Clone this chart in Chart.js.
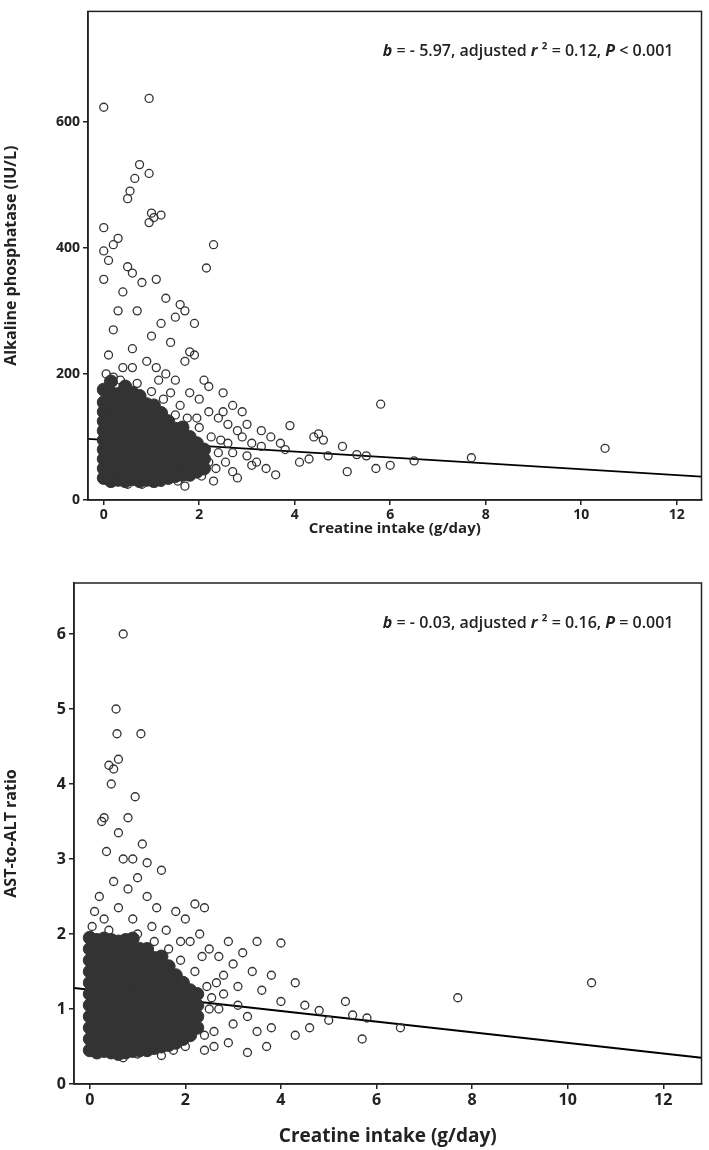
<!DOCTYPE html>
<html>
<head>
<meta charset="utf-8">
<script src="https://cdn.jsdelivr.net/npm/chart.js@4/dist/chart.umd.min.js"></script>
<style>
  body { margin: 0; background: #fff; }
  .box { position: relative; width: 709px; }
</style>
</head>
<body>
<div class="box" style="height:540px"><canvas id="alp"></canvas></div>
<div class="box" style="height:610px"><canvas id="ratio"></canvas></div>
<script>
// x tick labels shared by both panels
const xTicks = [0, 2, 4, 6, 8, 10, 12];
const alpTicks = [0, 200, 400, 600];
const ratioTicks = [0, 1, 2, 3, 4, 5, 6];

// Alkaline phosphatase: dense core (drawn filled) as [x, y] pairs
const alpCore = [
  [0,35],[0,50],[0,65],[0,80],[0,95],[0,110],[0,125],[0,140],[0,155],[0,175],
  [0.15,30],[0.15,45],[0.15,60],[0.15,75],[0.15,90],[0.15,105],[0.15,120],[0.15,135],[0.15,150],[0.15,170],[0.15,188],
  [0.3,32],[0.3,47],[0.3,62],[0.3,77],[0.3,92],[0.3,107],[0.3,122],[0.3,137],[0.3,152],[0.3,168],
  [0.45,30],[0.45,45],[0.45,60],[0.45,75],[0.45,90],[0.45,105],[0.45,120],[0.45,135],[0.45,150],[0.45,165],[0.45,180],
  [0.6,33],[0.6,48],[0.6,63],[0.6,78],[0.6,93],[0.6,108],[0.6,123],[0.6,138],[0.6,153],[0.6,170],
  [0.75,30],[0.75,45],[0.75,60],[0.75,75],[0.75,90],[0.75,105],[0.75,120],[0.75,135],[0.75,150],[0.75,165],
  [0.9,32],[0.9,47],[0.9,62],[0.9,77],[0.9,92],[0.9,107],[0.9,122],[0.9,137],[0.9,152],
  [1.05,30],[1.05,45],[1.05,60],[1.05,75],[1.05,90],[1.05,105],[1.05,120],[1.05,135],[1.05,150],
  [1.2,33],[1.2,48],[1.2,63],[1.2,78],[1.2,93],[1.2,108],[1.2,123],[1.2,138],
  [1.35,35],[1.35,50],[1.35,65],[1.35,80],[1.35,95],[1.35,110],[1.35,125],
  [1.5,38],[1.5,53],[1.5,68],[1.5,83],[1.5,98],[1.5,113],
  [1.65,40],[1.65,55],[1.65,70],[1.65,85],[1.65,100],[1.65,115],
  [1.8,40],[1.8,55],[1.8,70],[1.8,85],[1.8,100],
  [1.95,45],[1.95,60],[1.95,75],[1.95,90],
  [2.1,50],[2.1,65],[2.1,80]
];
// Alkaline phosphatase: visible open circles
const alpPoints = [
  [0.0,623],[0.95,637],[0.75,532],[0.95,518],[0.65,510],[0.55,490],[0.5,478],[1.0,455],[1.05,448],[1.2,452],
  [0.0,432],[0.3,415],[0.2,405],[0.95,440],[2.3,405],[2.15,368],[0.0,395],[0.1,380],[0.5,370],[0.6,360],
  [0.8,345],[1.1,350],[1.3,320],[1.6,310],[1.7,300],[1.9,280],[1.5,290],[0.3,300],[0.0,350],[0.4,330],
  [0.7,300],[1.2,280],[1.0,260],[1.4,250],[1.8,235],[1.9,230],[0.2,270],[0.6,240],[0.9,220],[1.1,210],
  [1.7,220],[2.1,190],[2.2,180],[2.5,170],[2.7,150],[2.9,140],[3.0,120],[3.3,110],[3.5,100],[3.7,90],
  [3.9,118],[3.8,80],[4.1,60],[4.3,65],[4.5,105],[4.6,95],[4.7,70],[4.4,100],[5.0,85],[5.1,45],
  [5.3,72],[5.5,70],[5.7,50],[5.8,152],[6.0,55],[6.5,62],[7.7,67],[10.5,82],[3.2,60],[3.4,50],
  [3.6,40],[2.8,35],[3.1,90],[3.0,70],[2.7,45],[2.6,120],[2.4,130],[2.2,140],[2.0,160],[1.8,170],
  [1.5,190],[1.3,200],[0.1,230],[0.4,210],[0.05,200],[1.4,170],[1.6,150],[2.9,100],[3.3,85],[2.6,90],
  [1.7,22],[0.8,25],[2.3,30],[1.2,28],[0.5,25],[2.55,60],[2.7,75],[2.8,110],[3.1,55],[2.5,140],
  [0.2,195],[0.7,185],[1.0,172],[1.25,160],[1.5,135],[1.75,130],[2.0,115],[2.25,100],[2.4,75],[2.35,50],
  [2.05,38],[1.55,30],[0.6,210],[1.15,190],[0.35,190],[1.95,130],[2.45,95],[2.2,60]
];
const alpFit = [[-0.33, 97], [12.52, 37]];

// AST-to-ALT ratio: dense core and open circles
const ratioCore = [
  [0,0.45],[0,0.6],[0,0.75],[0,0.9],[0,1.05],[0,1.2],[0,1.35],[0,1.5],[0,1.65],[0,1.8],[0,1.95],
  [0.15,0.42],[0.15,0.57],[0.15,0.72],[0.15,0.87],[0.15,1.02],[0.15,1.17],[0.15,1.32],[0.15,1.47],[0.15,1.62],[0.15,1.77],[0.15,1.92],
  [0.3,0.44],[0.3,0.59],[0.3,0.74],[0.3,0.89],[0.3,1.04],[0.3,1.19],[0.3,1.34],[0.3,1.49],[0.3,1.64],[0.3,1.79],[0.3,1.94],
  [0.45,0.42],[0.45,0.57],[0.45,0.72],[0.45,0.87],[0.45,1.02],[0.45,1.17],[0.45,1.32],[0.45,1.47],[0.45,1.62],[0.45,1.77],[0.45,1.92],
  [0.6,0.40],[0.6,0.55],[0.6,0.7],[0.6,0.85],[0.6,1.0],[0.6,1.15],[0.6,1.3],[0.6,1.45],[0.6,1.6],[0.6,1.75],[0.6,1.9],
  [0.75,0.42],[0.75,0.57],[0.75,0.72],[0.75,0.87],[0.75,1.02],[0.75,1.17],[0.75,1.32],[0.75,1.47],[0.75,1.62],[0.75,1.77],[0.75,1.92],
  [0.9,0.44],[0.9,0.59],[0.9,0.74],[0.9,0.89],[0.9,1.04],[0.9,1.19],[0.9,1.34],[0.9,1.49],[0.9,1.64],[0.9,1.79],[0.9,1.94],
  [1.05,0.45],[1.05,0.6],[1.05,0.75],[1.05,0.9],[1.05,1.05],[1.05,1.2],[1.05,1.35],[1.05,1.5],[1.05,1.65],[1.05,1.8],
  [1.2,0.45],[1.2,0.6],[1.2,0.75],[1.2,0.9],[1.2,1.05],[1.2,1.2],[1.2,1.35],[1.2,1.5],[1.2,1.65],[1.2,1.8],
  [1.35,0.48],[1.35,0.63],[1.35,0.78],[1.35,0.93],[1.35,1.08],[1.35,1.23],[1.35,1.38],[1.35,1.53],[1.35,1.68],
  [1.5,0.5],[1.5,0.65],[1.5,0.8],[1.5,0.95],[1.5,1.1],[1.5,1.25],[1.5,1.4],[1.5,1.55],[1.5,1.7],
  [1.65,0.52],[1.65,0.67],[1.65,0.82],[1.65,0.97],[1.65,1.12],[1.65,1.27],[1.65,1.42],[1.65,1.57],
  [1.8,0.55],[1.8,0.7],[1.8,0.85],[1.8,1.0],[1.8,1.15],[1.8,1.3],[1.8,1.45],
  [1.95,0.6],[1.95,0.75],[1.95,0.9],[1.95,1.05],[1.95,1.2],[1.95,1.35],
  [2.1,0.65],[2.1,0.8],[2.1,0.95],[2.1,1.1],[2.1,1.25],
  [2.25,0.75],[2.25,0.9],[2.25,1.05],[2.25,1.2]
];
const ratioPoints = [
  [0.7,6.0],[0.55,5.0],[0.57,4.67],[1.07,4.67],[0.6,4.33],[0.4,4.25],[0.5,4.2],[0.45,4.0],[0.95,3.83],[0.3,3.55],
  [0.25,3.5],[0.8,3.55],[0.6,3.35],[1.1,3.2],[0.9,3.0],[0.7,3.0],[1.2,2.95],[0.35,3.1],[1.0,2.75],[1.5,2.85],
  [0.5,2.7],[1.2,2.5],[2.2,2.4],[2.4,2.35],[1.8,2.3],[2.0,2.2],[2.9,1.9],[3.5,1.9],[4.0,1.88],[3.2,1.75],
  [2.7,1.7],[3.0,1.6],[3.4,1.5],[3.8,1.45],[4.3,1.35],[2.8,1.45],[3.1,1.3],[3.6,1.25],[4.0,1.1],[4.5,1.05],
  [4.8,0.98],[5.0,0.85],[5.35,1.1],[5.5,0.92],[5.8,0.88],[6.5,0.75],[5.7,0.6],[4.6,0.75],[4.3,0.65],[3.3,0.42],
  [3.7,0.5],[3.5,0.7],[3.8,0.75],[2.9,0.55],[2.6,0.5],[2.4,0.45],[1.5,0.38],[0.7,0.35],[1.0,0.4],[3.1,1.05],
  [2.7,1.0],[3.3,0.9],[7.7,1.15],[10.5,1.35],[0.1,2.3],[0.3,2.2],[0.6,2.35],[0.9,2.2],[1.3,2.1],[1.6,2.05],
  [0.2,2.5],[0.8,2.6],[1.4,2.35],[2.1,1.9],[2.5,1.8],[2.3,2.0],[2.6,0.7],[3.0,0.8],[2.8,1.2],[2.65,1.35],
  [0.05,2.1],[0.4,2.05],[1.0,2.0],[1.35,1.9],[1.65,1.8],[1.9,1.65],[2.2,1.5],[2.45,1.3],[2.5,1.0],[2.4,0.65],
  [2.0,0.5],[1.75,0.45],[2.55,1.15],[1.9,1.9],[2.35,1.7]
];
const ratioFit = [[-0.33, 1.28], [12.8, 0.35]];

const ink = '#222';
const toXY = arr => arr.map(p => ({ x: p[0], y: p[1] }));

const framePlugin = {
  id: 'frame',
  afterDraw(chart) {
    const a = chart.chartArea, c = chart.ctx;
    c.save();
    c.strokeStyle = ink; c.lineWidth = 1.5;
    c.strokeRect(a.left, a.top, a.right - a.left, a.bottom - a.top);
    // stats text, italic letters
    const parts = chart.options.plugins.frame.parts;
    const fontOf = p => (p[1] ? 'italic bold ' : '600 ') + '16px "Open Sans"';
    c.textBaseline = 'middle';
    c.fillStyle = ink;
    const widths = parts.map(p => { c.font = fontOf(p); return c.measureText(p[0]).width; });
    let x = a.right - 28 - widths.reduce((s, w) => s + w, 0);
    parts.forEach((p, i) => {
      c.font = fontOf(p);
      c.fillText(p[0], x, a.top + 40);
      x += widths[i];
    });
    c.restore();
  }
};

function makeChart(id, core, pts, fit, o) {
  new Chart(document.getElementById(id), {
    type: 'scatter',
    data: {
      datasets: [
        { data: toXY(core), pointRadius: 6.5, pointBackgroundColor: '#333', pointBorderColor: '#333', pointBorderWidth: 1 },
        { data: toXY(pts), pointRadius: 4, pointBackgroundColor: 'rgba(255,255,255,0)', pointBorderColor: '#333', pointBorderWidth: 1.3 },
        { type: 'line', data: toXY(fit), borderColor: '#000', borderWidth: 1.8, pointRadius: 0 }
      ]
    },
    options: {
      responsive: true,
      maintainAspectRatio: false,
      animation: false,
      layout: { padding: { top: o.top, right: 3, left: 0, bottom: 0 } },
      plugins: { legend: { display: false }, tooltip: { enabled: false }, frame: { parts: o.parts } },
      scales: {
        x: {
          min: o.xmin, max: o.xmax,
          afterBuildTicks: s => { s.ticks = xTicks.map(v => ({ value: v })); },
          afterFit: s => { s.height = o.xh; },
          grid: { drawOnChartArea: false, tickLength: 5, color: ink, lineWidth: 1.5 },
          border: { color: ink, width: 1.5 },
          ticks: { color: ink, font: { family: 'Open Sans', size: o.tickSize, weight: 'bold' }, padding: 2 },
          title: { display: true, text: 'Creatine intake (g/day)', color: ink, font: { family: 'Open Sans', size: o.xtSize, weight: 'bold' }, padding: 2 }
        },
        y: {
          min: 0, max: o.ymax,
          afterBuildTicks: s => { s.ticks = o.yTicks.map(v => ({ value: v })); },
          afterFit: s => { s.width = o.yw; },
          grid: { drawOnChartArea: false, tickLength: 5, color: ink, lineWidth: 1.5 },
          border: { color: ink, width: 1.5 },
          ticks: { color: ink, font: { family: 'Open Sans', size: o.tickSize, weight: 'bold' }, padding: 3 },
          title: { display: true, text: o.ytitle, color: ink, font: { family: 'Open Sans', size: 16, weight: 'bold' }, padding: 2 }
        }
      }
    },
    plugins: [framePlugin]
  });
}

makeChart('alp', alpCore, alpPoints, alpFit, {
  top: 0, xmin: -0.33, xmax: 12.52, ymax: 775, yTicks: alpTicks, xh: 40, yw: 88,
  tickSize: 14, xtSize: 15, ytitle: 'Alkaline phosphatase (IU/L)',
  parts: [['b', true], [' = - 5.97, adjusted ', false], ['r', true], [' ² = 0.12, ', false], ['P', true], [' < 0.001', false]]
});
makeChart('ratio', ratioCore, ratioPoints, ratioFit, {
  top: 43, xmin: -0.33, xmax: 12.8, ymax: 6.68, yTicks: ratioTicks, xh: 66, yw: 74,
  tickSize: 16, xtSize: 19, ytitle: 'AST-to-ALT ratio',
  parts: [['b', true], [' = - 0.03, adjusted ', false], ['r', true], [' ² = 0.16, ', false], ['P', true], [' = 0.001', false]]
});
</script>
</body>
</html>
